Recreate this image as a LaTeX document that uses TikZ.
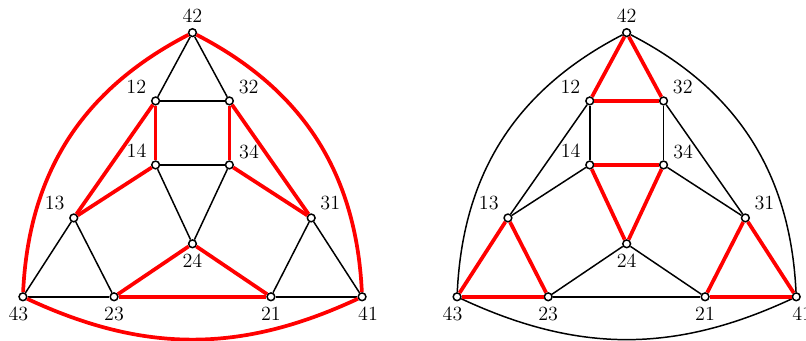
\documentclass[tikz,border=0pt]{standalone}
\usepackage{tikz}
\usetikzlibrary{positioning}

\begin{document}
\begin{tikzpicture}[
  vert/.style={circle, draw=black, fill=white, line width=1pt, inner sep=0pt, minimum size=5.2pt},
  edge/.style={line width=1pt, black},
  cyc/.style={line width=2.5pt, red},
  every label/.style={font=\fontsize{13.5}{15}\selectfont},
  label distance=0pt
]
  \useasboundingbox (-0.54,-1.04) rectangle (18.47,7.0);

  % left copy
  \node[vert, label=90:42] (a42) at (4,6.23) {};
  \node[vert, label=155:12] (a12) at (3.13,4.62) {};
  \node[vert, label=25:32] (a32) at (4.87,4.62) {};
  \node[vert, label=148:14] (a14) at (3.13,3.11) {};
  \node[vert, label=8:34] (a34) at (4.87,3.11) {};
  \node[vert, label=150:13] (a13) at (1.2,1.86) {};
  \node[vert, label=30:31] (a31) at (6.8,1.86) {};
  \node[vert, label=270:24] (a24) at (4,1.25) {};
  \node[vert, label={[xshift=-3pt]270:43}] (a43) at (0,0) {};
  \node[vert, label=270:23] (a23) at (2.15,0) {};
  \node[vert, label=270:21] (a21) at (5.85,0) {};
  \node[vert, label={[xshift=4pt]270:41}] (a41) at (8,0) {};

  \draw[edge] (a42) -- (a12);
  \draw[edge] (a42) -- (a32);
  \draw[edge] (a12) -- (a32);
  \draw[edge] (a14) -- (a34);
  \draw[edge] (a14) -- (a24);
  \draw[edge] (a34) -- (a24);
  \draw[edge] (a13) -- (a43);
  \draw[edge] (a13) -- (a23);
  \draw[edge] (a43) -- (a23);
  \draw[edge] (a31) -- (a21);
  \draw[edge] (a31) -- (a41);
  \draw[edge] (a21) -- (a41);
  \draw[cyc] (a12) -- (a14);
  \draw[cyc] (a12) -- (a13);
  \draw[cyc] (a14) -- (a13);
  \draw[cyc] (a32) -- (a34);
  \draw[cyc] (a32) -- (a31);
  \draw[cyc] (a34) -- (a31);
  \draw[cyc] (a24) -- (a23);
  \draw[cyc] (a24) -- (a21);
  \draw[cyc] (a23) -- (a21);
  \draw[cyc] (a43) to[bend left=30] (a42);
  \draw[cyc] (a42) to[bend left=30] (a41);
  \draw[cyc] (a41) to[bend left=25] (a43);

  % right copy
  \node[vert, label=90:42] (b42) at (14.24,6.23) {};
  \node[vert, label=155:12] (b12) at (13.37,4.62) {};
  \node[vert, label=25:32] (b32) at (15.11,4.62) {};
  \node[vert, label=148:14] (b14) at (13.37,3.11) {};
  \node[vert, label=8:34] (b34) at (15.11,3.11) {};
  \node[vert, label=150:13] (b13) at (11.44,1.86) {};
  \node[vert, label=30:31] (b31) at (17.04,1.86) {};
  \node[vert, label=270:24] (b24) at (14.24,1.25) {};
  \node[vert, label={[xshift=-3pt]270:43}] (b43) at (10.24,0) {};
  \node[vert, label=270:23] (b23) at (12.39,0) {};
  \node[vert, label=270:21] (b21) at (16.09,0) {};
  \node[vert, label={[xshift=4pt]270:41}] (b41) at (18.24,0) {};

  \draw[edge] (b12) -- (b14);
  \draw[edge] (b12) -- (b13);
  \draw[edge] (b14) -- (b13);
  \draw[edge] (b32) -- (b34);
  \draw[edge] (b32) -- (b31);
  \draw[edge] (b34) -- (b31);
  \draw[edge] (b24) -- (b23);
  \draw[edge] (b24) -- (b21);
  \draw[edge] (b23) -- (b21);
  \draw[edge] (b43) to[bend left=30] (b42);
  \draw[edge] (b42) to[bend left=30] (b41);
  \draw[edge] (b41) to[bend left=25] (b43);
  \draw[cyc] (b42) -- (b12);
  \draw[cyc] (b42) -- (b32);
  \draw[cyc] (b12) -- (b32);
  \draw[cyc] (b14) -- (b34);
  \draw[cyc] (b14) -- (b24);
  \draw[cyc] (b34) -- (b24);
  \draw[cyc] (b13) -- (b43);
  \draw[cyc] (b13) -- (b23);
  \draw[cyc] (b43) -- (b23);
  \draw[cyc] (b31) -- (b21);
  \draw[cyc] (b31) -- (b41);
  \draw[cyc] (b21) -- (b41);
\end{tikzpicture}
\end{document}
